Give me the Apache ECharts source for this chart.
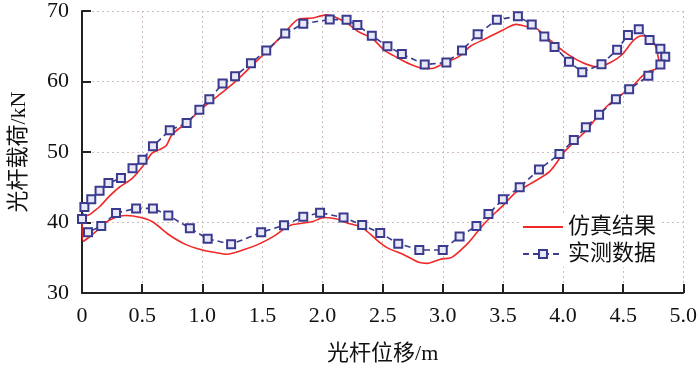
<!DOCTYPE html>
<html>
<head>
<meta charset="utf-8">
<script src="https://cdn.jsdelivr.net/npm/echarts@6/dist/echarts.min.js"></script>
<style>
  html, body { margin: 0; padding: 0; background: #fff; }
  #card { width: 700px; height: 370px; }
</style>
</head>
<body>
<div id="card"></div>
<script>
// 仿真结果 (x 位移 m, y 载荷 kN), 闭合示功图
var simX = [0.00, 0.06, 0.10, 0.15, 0.22, 0.31, 0.42, 0.52, 0.58, 0.64, 0.70, 0.75, 0.875, 1.00, 1.14, 1.27, 1.41, 1.55, 1.69, 1.81,
    1.92, 2.03, 2.10, 2.21, 2.30, 2.415, 2.51, 2.62, 2.73, 2.83, 2.91, 3.00, 3.14, 3.23, 3.36, 3.50, 3.61, 3.71, 3.78, 3.89,
    4.02, 4.16, 4.285, 4.395, 4.49, 4.59, 4.66, 4.725, 4.77, 4.79, 4.80, 4.77, 4.71, 4.66, 4.57, 4.50, 4.41, 4.30, 4.19, 4.08,
    4.01, 3.89, 3.72, 3.61, 3.50, 3.36, 3.28, 3.20, 3.075, 2.98, 2.87, 2.80, 2.68, 2.54, 2.48, 2.40, 2.32, 2.21, 2.13, 2.02,
    1.91, 1.74, 1.69, 1.60, 1.466, 1.356, 1.205, 1.108, 1.00, 0.86, 0.72, 0.586, 0.49, 0.37, 0.23, 0.118, 0.05, 0.01, 0.00];
var simY = [40.8, 41.1, 41.6, 42.3, 43.6, 45.0, 46.3, 48.3, 49.8, 50.3, 50.9, 52.5, 54.2, 56.2, 58.1, 59.9, 62.2, 64.5, 67.0, 68.9,
    69.0, 69.45, 69.2, 68.2, 67.05, 66.1, 64.5, 63.4, 62.45, 61.9, 61.85, 62.5, 63.6, 65.0, 66.1, 67.3, 68.1, 67.75, 67.5, 65.9,
    64.1, 62.7, 62.1, 62.7, 63.8, 65.9, 66.5, 66.1, 65.0, 63.6, 62.45, 61.75, 61.4, 60.8, 59.2, 58.3, 57.2, 55.3, 53.0, 51.2,
    50.0, 47.25, 45.4, 44.3, 42.4, 40.1, 38.5, 36.9, 35.05, 34.8, 34.2, 34.35, 35.4, 36.4, 37.1, 38.3, 39.4, 39.9, 40.45, 40.7,
    40.1, 39.65, 39.2, 38.1, 36.9, 36.2, 35.5, 35.75, 36.1, 36.9, 38.3, 40.1, 40.7, 41.0, 40.35, 38.75, 37.8, 37.35, 40.8];

// 实测数据
var testX = [0.00, 0.02, 0.077, 0.146, 0.22, 0.324, 0.42, 0.503, 0.59, 0.73, 0.87, 0.976, 1.059, 1.169, 1.273, 1.405, 1.532, 1.69, 1.84, 2.06,
    2.20, 2.29, 2.41, 2.54, 2.66, 2.85, 3.03, 3.16, 3.29, 3.45, 3.625, 3.74, 3.845, 3.93, 4.05, 4.16, 4.32, 4.45, 4.54, 4.63,
    4.72, 4.81, 4.85, 4.81, 4.71, 4.55, 4.44, 4.30, 4.19, 4.09, 3.97, 3.80, 3.64, 3.50, 3.38, 3.28, 3.14, 3.00, 2.805, 2.63,
    2.48, 2.33, 2.175, 1.98, 1.84, 1.68, 1.49, 1.24, 1.045, 0.897, 0.718, 0.59, 0.45, 0.283, 0.16, 0.05, 0.00];
var testY = [40.5, 42.2, 43.3, 44.5, 45.6, 46.3, 47.7, 48.9, 50.8, 53.1, 54.1, 56.0, 57.5, 59.7, 60.75, 62.6, 64.4, 66.8, 68.2, 68.8,
    68.76, 68.0, 66.5, 65.0, 63.9, 62.4, 62.7, 64.4, 66.7, 68.76, 69.26, 68.1, 66.4, 64.9, 62.8, 61.3, 62.45, 64.5, 66.6, 67.4,
    65.9, 64.65, 63.5, 62.4, 60.8, 58.9, 57.5, 55.3, 53.5, 51.7, 49.7, 47.5, 45.0, 43.3, 41.2, 39.5, 38.0, 36.1, 36.1, 37.0,
    38.5, 39.65, 40.7, 41.4, 40.8, 39.6, 38.6, 36.9, 37.7, 39.2, 41.0, 42.0, 42.0, 41.35, 39.5, 38.6, 40.5];

var seriesNames = ['仿真结果', '实测数据'];

function pairs(xs, ys) {
    var out = [];
    for (var i = 0; i < xs.length; i++) out.push([xs[i], ys[i]]);
    return out;
}

var font = '"Liberation Serif", "Times New Roman", "Noto Sans CJK SC", serif';
var gridColor = '#cdbdbd';

var chart = echarts.init(document.getElementById('card'));
var option = {
    animation: false,
    textStyle: { fontFamily: font, color: '#111' },
    grid: { left: 79, right: 15, top: 7, bottom: 73 },
    legend: {
        orient: 'vertical',
        left: 522,
        top: 214,
        itemWidth: 40,
        itemHeight: 10,
        itemGap: 5,
        itemStyle: { borderWidth: 2 },
        backgroundColor: '#fff',
        padding: [2, 4, 2, 0],
        textStyle: { fontSize: 22, fontFamily: font, color: '#111' },
        data: [
            // 仿真结果 只画线, 不画点
            { name: seriesNames[0], itemStyle: { opacity: 0 } },
            { name: seriesNames[1] }
        ]
    },
    xAxis: {
        type: 'value',
        min: 0,
        max: 5,
        interval: 0.5,
        name: '光杆位移/m',
        nameLocation: 'middle',
        nameGap: 50,
        nameTextStyle: { fontSize: 22, fontFamily: font, color: '#111' },
        axisLine: { lineStyle: { color: '#222', width: 2 } },
        axisTick: { inside: true, length: 9, lineStyle: { color: '#222', width: 2 } },
        axisLabel: {
            fontSize: 22, color: '#111', margin: 12,
            formatter: function (v) { return v === 0 ? '0' : v.toFixed(1); }
        },
        splitLine: { show: true, lineStyle: { color: gridColor, type: [2, 3], width: 1 } }
    },
    yAxis: {
        type: 'value',
        min: 30,
        max: 70,
        interval: 10,
        name: '光杆载荷/kN',
        nameLocation: 'middle',
        nameGap: 52,
        nameTextStyle: { fontSize: 22, fontFamily: font, color: '#111' },
        axisLine: { show: true, lineStyle: { color: '#222', width: 2 } },
        axisTick: { show: true, inside: true, length: 9, lineStyle: { color: '#222', width: 2 } },
        axisLabel: { fontSize: 22, color: '#111', margin: 13 },
        splitLine: { show: true, lineStyle: { color: gridColor, type: [2, 3], width: 1 } }
    },
    series: [
        {
            name: seriesNames[0],
            type: 'line',
            showSymbol: false,
            symbol: 'none',
            smooth: 0.3,
            lineStyle: { color: '#f02828', width: 1.6 },
            itemStyle: { color: '#f02828' },
            data: pairs(simX, simY)
        },
        {
            name: seriesNames[1],
            type: 'line',
            symbol: 'rect',
            symbolSize: 8,
            lineStyle: { color: '#3a3a8e', width: 1.6, type: [6, 4] },
            itemStyle: { color: '#e8e8f6', borderColor: '#3a3a8e', borderWidth: 2 },
            data: pairs(testX, testY)
        }
    ]
};
chart.setOption(option);
</script>
</body>
</html>
